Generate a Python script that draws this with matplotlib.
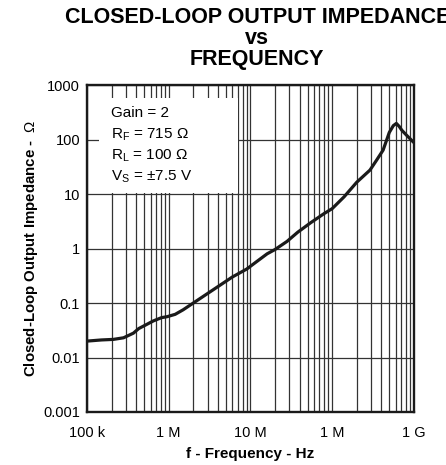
import matplotlib
matplotlib.use('Agg')
import matplotlib.pyplot as plt
from matplotlib.patches import Rectangle
from matplotlib.ticker import LogLocator, NullFormatter, NullLocator

plt.rcParams['font.family'] = ['Liberation Sans', 'DejaVu Sans']
plt.rcParams['mathtext.default'] = 'regular'
plt.rcParams['mathtext.fontset'] = 'custom'
plt.rcParams['mathtext.rm'] = 'Liberation Sans'

# ---------------------------------------------------
# data

freq_hz = [1e5, 1.5e5, 2.1e5, 2.8e5, 3.7e5, 4.3e5, 5.3e5, 6.5e5, 8.2e5, 9.5e5,
           1.2e6, 1.5e6, 2.0e6, 3.0e6, 4.2e6, 6.0e6, 9.0e6, 1.2e7, 1.6e7, 2.0e7,
           2.8e7, 3.8e7, 5.5e7, 8.0e7, 1.0e8, 1.4e8, 2.0e8, 2.9e8, 3.5e8, 4.2e8,
           5.0e8, 5.6e8, 6.1e8, 6.6e8, 7.1e8, 8.1e8, 1.0e9]
impedance = [0.020, 0.021, 0.0215, 0.023, 0.028, 0.034, 0.040, 0.047, 0.054, 0.056,
             0.062, 0.075, 0.10, 0.15, 0.21, 0.30, 0.42, 0.58, 0.80, 0.96,
             1.35, 2.0, 3.0, 4.4, 5.4, 8.9, 16.5, 27.5, 42, 64,
             135, 180, 198, 175, 149, 121, 88]

x_ticks = [1e5, 1e6, 1e7, 1e8, 1e9]
x_tick_labels = ['100 k', '1 M', '10 M', '1 M', '1 G']
y_ticks = [1e-3, 1e-2, 1e-1, 1, 10, 100, 1000]
y_tick_labels = ['0.001', '0.01', '0.1', '1', '10', '100', '1000']

conditions = ['Gain = 2',
              r'R$_F$ = 715 Ω',
              r'R$_L$ = 100 Ω',
              r'V$_S$ = ±7.5 V']

# ---------------------------------------------------

fig = plt.figure(figsize=(4.46, 4.65), dpi=100)
ax = fig.add_axes([0.195, 0.114, 0.733, 0.703])

ax.set_xscale('log')
ax.set_yscale('log')
ax.set_xlim(1e5, 1e9)
ax.set_ylim(1e-3, 1e3)

ax.set_axisbelow(True)
ax.xaxis.set_minor_locator(LogLocator(base=10, subs=range(2, 10)))
ax.xaxis.set_minor_formatter(NullFormatter())
ax.yaxis.set_minor_locator(NullLocator())
ax.grid(True, which='both', axis='x', color='#333333', linewidth=0.9)
ax.grid(True, which='major', axis='y', color='#333333', linewidth=0.9)

ax.set_xticks(x_ticks)
ax.set_xticklabels(x_tick_labels)
ax.set_yticks(y_ticks)
ax.set_yticklabels(y_tick_labels)
ax.tick_params(which='both', length=0, labelsize=10.5)
ax.tick_params(axis='x', pad=10)
ax.tick_params(axis='y', pad=5)

for s in ax.spines.values():
    s.set_linewidth(1.7)
    s.set_color('#1a1a1a')

# white box for the test conditions
ax.add_patch(Rectangle((0.037, 0.671), 0.425, 0.289, transform=ax.transAxes,
                       facecolor='white', edgecolor='none', zorder=1))
for i, txt in enumerate(conditions):
    ax.text(0.073, 0.901 - i * 0.0645, txt, transform=ax.transAxes,
            fontsize=11, va='baseline', ha='left', zorder=3)

ax.plot(freq_hz, impedance, color='#1a1a1a', linewidth=2.3, zorder=2,
        solid_capstyle='butt')

ax.set_xlabel('f - Frequency - Hz', fontsize=11, fontweight='bold', labelpad=5)
ax.set_ylabel(r'Closed-Loop Output Impedance -  $\mathrm{\Omega}$', fontsize=10.8,
              fontweight='bold', labelpad=2)

fig.text(0.577, 0.950, 'CLOSED-LOOP OUTPUT IMPEDANCE', ha='center',
         va='baseline', fontsize=15.5, fontweight='bold')
fig.text(0.577, 0.905, 'vs', ha='center', va='baseline', fontsize=15.5,
         fontweight='bold')
fig.text(0.577, 0.860, 'FREQUENCY', ha='center', va='baseline', fontsize=15.5,
         fontweight='bold')

fig.savefig('out.png', dpi=100)
